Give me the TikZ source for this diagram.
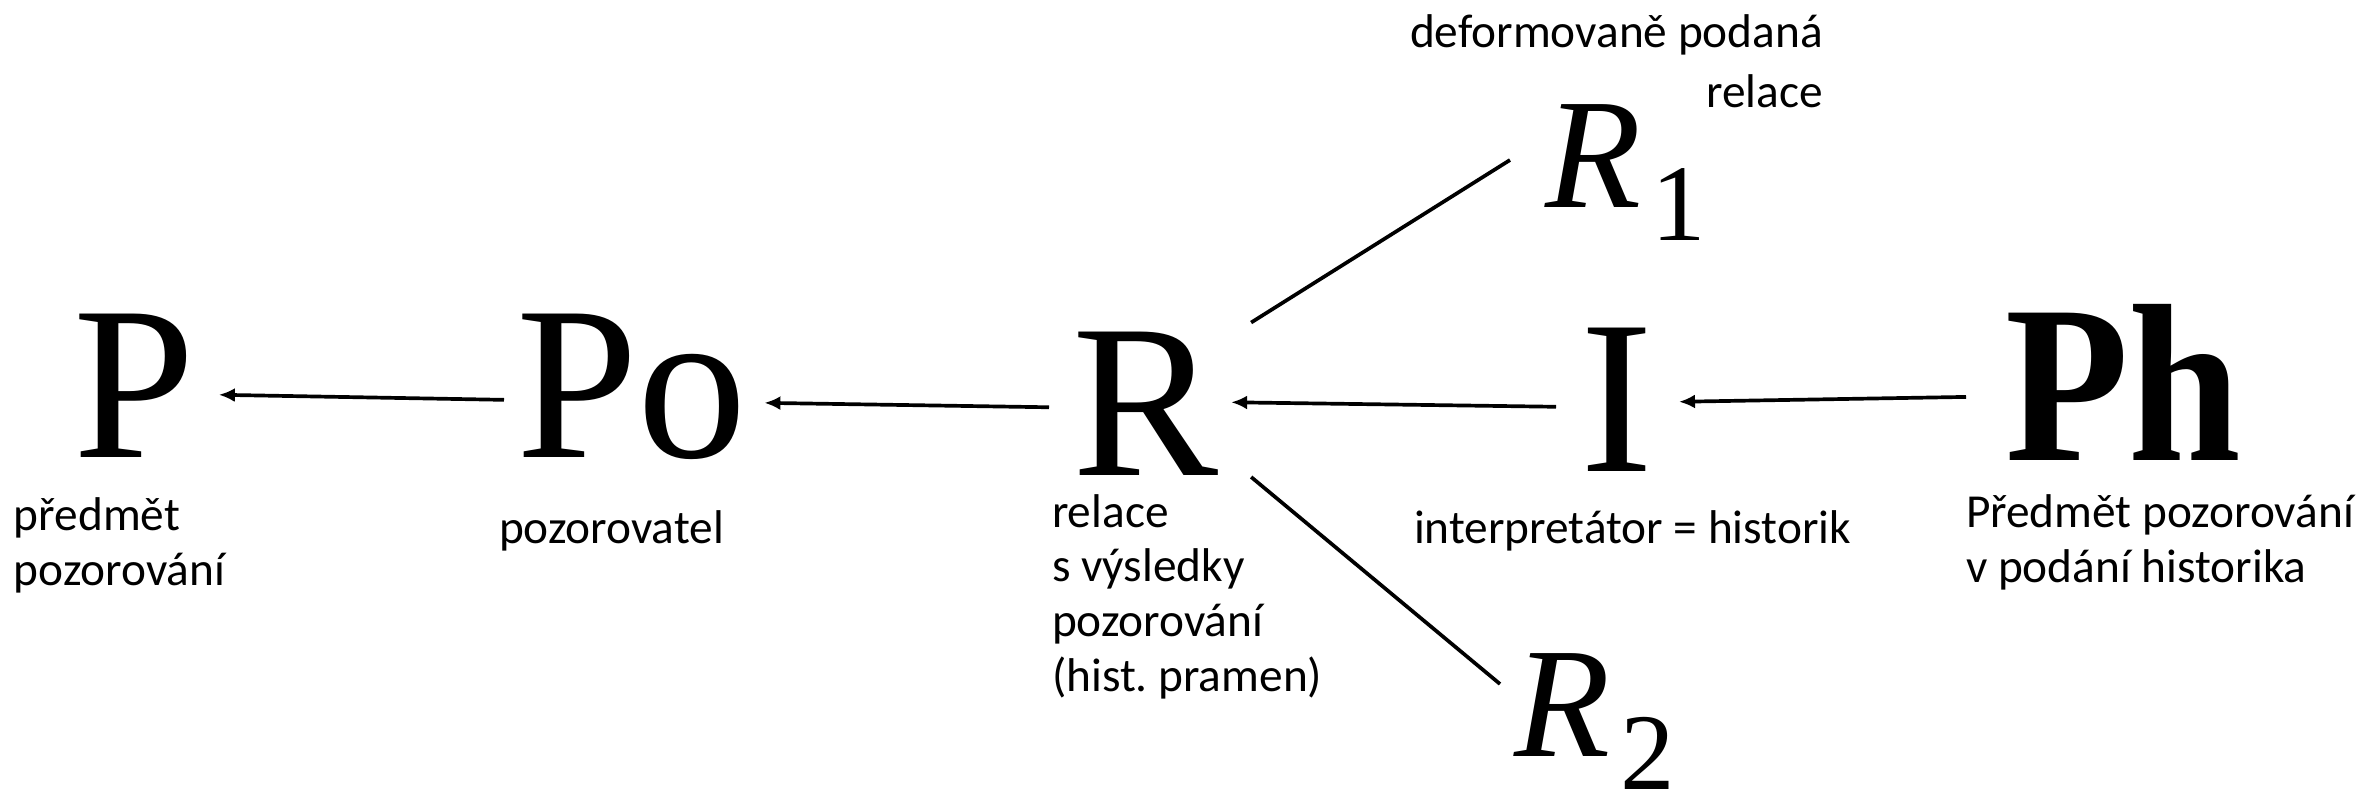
\documentclass[tikz,border=0pt]{standalone}
\usepackage{fontspec}
\setmainfont{Carlito}
\newfontfamily\bigserif{Liberation Serif}
\usetikzlibrary{arrows.meta}
\frenchspacing

\begin{document}
\begin{tikzpicture}[x=0.01cm, y=-0.01cm,
every node/.style = {inner sep=0pt, outer sep=0pt, anchor=base west},
letter/.style = {font=\bigserif\fontsize{62.3}{70}\selectfont},
rsym/.style = {font=\bigserif\itshape\fontsize{44.7}{50}\selectfont},
note/.style = {font=\fontsize{13.46}{15.5}\selectfont, align=left},
arr/.style = {-{Latex[length=0.16cm,width=0.14cm]}, line width=1.05pt},
link/.style = {line width=1.05pt}]
\useasboundingbox (0,0) rectangle (2366,797);

% big letters
\node [letter] (P) at (73,457) {P};
\node [letter] (Po) at (516,457) {Po};
\node [letter] (R) at (1072,475) {R};
\node [letter] (I) at (1580,471) {I};
\node [letter, font=\bigserif\bfseries\fontsize{64}{70}\selectfont] (Ph) at (2005,460) {\scalebox{0.9}[1]{Ph}};
\node [rsym] (R1) at (1545,207) {R\hspace{0.1cm}\raisebox{-0.33cm}{\upshape\fontsize{31}{35}\selectfont 1}};
\node [rsym] (R2) at (1514,756) {R\hspace{0.1cm}\raisebox{-0.33cm}{\upshape\fontsize{31}{35}\selectfont 2}};

% captions (base = last line)
\node [note] (tP) at (14,585) {předmět\\pozorování};
\node [note] (tPo) at (499,543) {pozorovatel};
\node [note] (tR) at (1052,691) {relace\\s výsledky\\pozorování\\(hist. pramen)};
\node [note] (tI) at (1414,543) {interpretátor = historik};
\node [note] (tPh) at (1966,582) {Předmět pozorování\\v podání historika};
\node [note, align=right, anchor=base east, font=\fontsize{13.46}{17}\selectfont] (tR1) at (1823,107) {deformovaně podaná\\relace};

% connectors
\draw [arr] ([shift={(-12,13.5)}]Po.west) -- ([shift={(24,9.5)}]P.east);
\draw [arr] ([shift={(-23,4)}]R.west) -- ([shift={(17,16.5)}]Po.east);
\draw [arr] ([shift={(-24,7.5)}]I.west) -- ([shift={(13,-1)}]R.east);
\draw [arr] ([shift={(-39,15)}]Ph.west) -- ([shift={(26,2.5)}]I.east);
\draw [link] ([shift={(33,-9)}]R.north east) -- ([shift={(-35,-47)}]R1.base west);
\draw [link] ([shift={(33,2)}]R.south east) -- ([shift={(-14,-72)}]R2.base west);
\end{tikzpicture}
\end{document}
